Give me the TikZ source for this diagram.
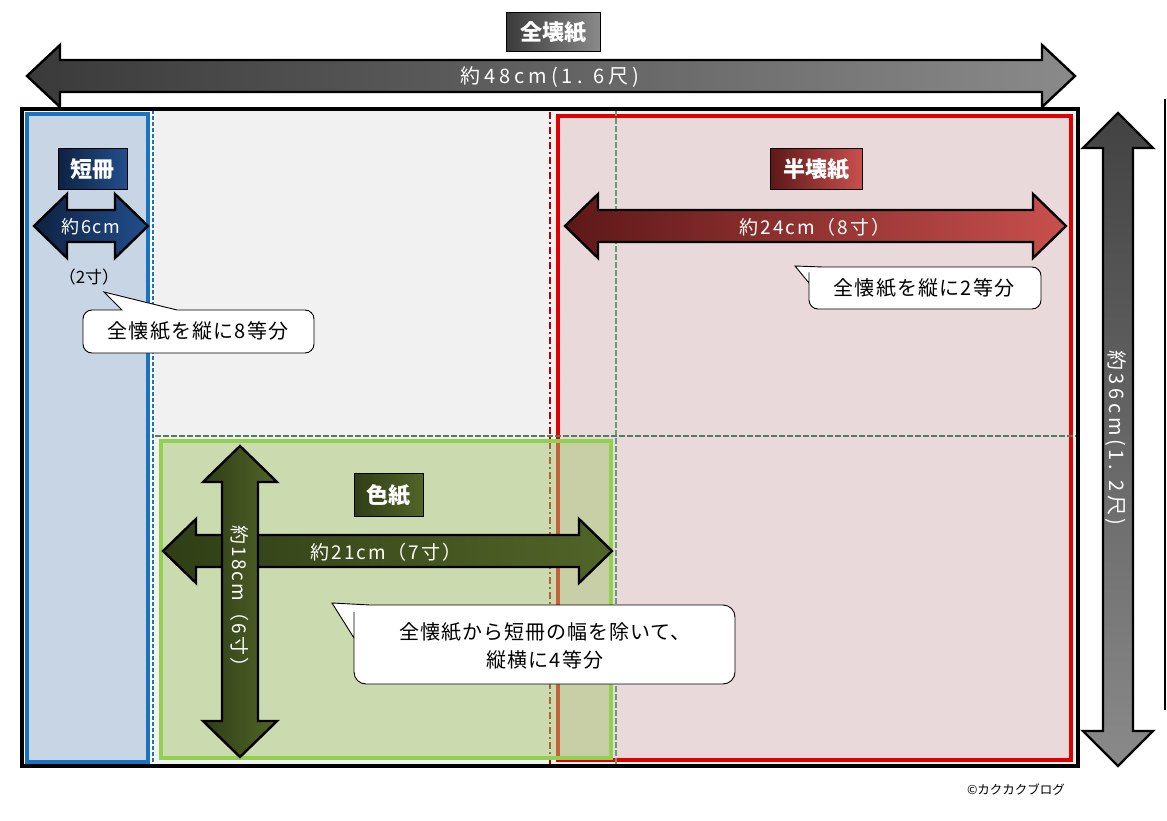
\documentclass[tikz,border=0pt]{standalone}
\usepackage{fontspec}
\setmainfont{Noto Sans CJK JP}
\definecolor{grayA}{RGB}{58,58,58}
\definecolor{grayB}{RGB}{138,138,138}
\definecolor{navyA}{RGB}{14,34,66}
\definecolor{navyB}{RGB}{34,78,140}
\definecolor{redA}{RGB}{94,24,24}
\definecolor{redB}{RGB}{200,80,77}
\definecolor{olvA}{RGB}{48,62,22}
\definecolor{olvB}{RGB}{82,100,40}
\definecolor{bluefill}{RGB}{200,213,229}
\definecolor{blueline}{RGB}{26,115,192}
\definecolor{pinkfill}{RGB}{234,217,219}
\definecolor{redline}{RGB}{224,0,0}
\definecolor{greenfill}{RGB}{168,196,112}
\definecolor{greenline}{RGB}{146,208,80}
\definecolor{gdash}{RGB}{100,158,118}
\definecolor{paper}{RGB}{241,241,241}
\newcommand{\harr}[7]{%
 \path[#7] (#1,#3) -- ({#1+#6},{#3-#5}) -- ({#1+#6},{#3-#4}) -- ({#2-#6},{#3-#4}) -- ({#2-#6},{#3-#5}) -- (#2,#3) -- ({#2-#6},{#3+#5}) -- ({#2-#6},{#3+#4}) -- ({#1+#6},{#3+#4}) -- ({#1+#6},{#3+#5}) -- cycle;}
\newcommand{\varr}[7]{%
 \path[#7] (#3,#1) -- ({#3-#5},{#1+#6}) -- ({#3-#4},{#1+#6}) -- ({#3-#4},{#2-#6}) -- ({#3-#5},{#2-#6}) -- (#3,#2) -- ({#3+#5},{#2-#6}) -- ({#3+#4},{#2-#6}) -- ({#3+#4},{#1+#6}) -- ({#3+#5},{#1+#6}) -- cycle;}
\newcommand{\arrfont}[2]{\fontsize{#1}{#1}\selectfont\addfontfeature{LetterSpace=#2}}
\tikzset{
 arrowline/.style={draw=black, line width=2.4pt, line join=miter},
 labelbox/.style={draw=black, line width=0.8pt, text=white, font=\fontsize{22}{26}\selectfont\bfseries, inner sep=0pt},
 arrowtext/.style={text=white, inner sep=0pt},
 callout/.style={draw=black, line width=0.9pt, fill=white},
 callouttext/.style={font=\arrfont{20}{6}, inner sep=0pt, align=center},
 framerect/.style={line width=3.2pt},
}
\begin{document}
\begin{tikzpicture}[x=1pt,y=-1pt]
\useasboundingbox (0,0) rectangle (1167,821);
\fill[white] (0,0) rectangle (1167,821);
% sheet
\fill[paper] (155,110) rectangle (1076,764);
\draw[framerect, fill=bluefill, draw=blueline] (27,114) rectangle (148,762);
\draw[white, line width=4pt] (153,110) -- (153,765);
\draw[blueline, line width=1.5pt, dash pattern=on 4pt off 2pt] (153,110) -- (153,765);
\draw[framerect, fill=pinkfill, draw=redline] (558,116) rectangle (1071,760);
\draw[red!70!black, line width=2.2pt, dash pattern=on 7pt off 3pt on 2pt off 3pt] (550,112) -- (550,765);
\draw[gdash, line width=1.5pt, dash pattern=on 6pt off 2pt] (616,110) -- (616,765);
\draw[gdash!80!black, line width=1.5pt, dash pattern=on 6pt off 2pt] (155,436) -- (1077,436);
\draw[framerect, fill=greenfill, fill opacity=0.5, draw=greenline] (161,441) rectangle (611,758);
\draw[black, line width=3.4pt] (22,109) rectangle (1078,766);
\draw[black, line width=1.5pt] (1165,99) -- (1165,710);
% top label and arrow
\node[labelbox, left color=grayA, right color=grayB, minimum width=94, minimum height=39] (zen) at (553,32) {全壊紙};
\harr{27}{1075}{76}{16}{31}{33}{arrowline, left color=grayA, right color=grayB}
\node[arrowtext, font=\arrfont{20}{20}] (w48) at (550,77) {約48cm(1. 6尺)};
% right arrow
\varr{113}{766}{1118}{15}{35}{35}{arrowline, top color=grayA!90!grayB, bottom color=grayB}
\node[arrowtext, rotate=-90, font=\arrfont{20}{18}] (h36) at (1116,438) {約36cm(1. 2尺)};
% tanzaku
\node[labelbox, left color=navyA, right color=navyB, minimum width=69, minimum height=41] (tan) at (92.5,169) {短冊};
\harr{34}{148}{226}{16}{32}{33}{arrowline, left color=navyA, right color=navyB}
\node[arrowtext, font=\arrfont{18}{8}] (w6) at (91,227) {約6cm};
\node[inner sep=0pt, font=\arrfont{17}{0}] (sun2) at (89,277) {（2寸）};
\draw[callout] (122,310) -- (104,292) -- (177,310) [rounded corners=9pt] -- (314,310) -- (314,353) -- (83,353) -- (83,310) [sharp corners] -- cycle;
\node[callouttext] (c8) at (198,331) {全懐紙を縦に8等分};
% hanshi
\node[labelbox, left color=redA, right color=redB, minimum width=92, minimum height=41] (han) at (816,169) {半壊紙};
\harr{565}{1066}{226}{16}{32}{33}{arrowline, left color=redA, right color=redB}
\node[arrowtext, font=\arrfont{19}{10}] (w24) at (815,227) {約24cm（8寸）};
\draw[callout] (809,283) -- (795,266) -- (823,267) [rounded corners=9pt] -- (1041,267) -- (1041,309) -- (809,309) -- (809,267) [sharp corners] -- cycle;
\node[callouttext] (c2) at (924,288) {全懐紙を縦に2等分};
% shikishi
\node[labelbox, left color=olvA, right color=olvB, minimum width=69, minimum height=43] (shi) at (388.5,495) {色紙};
\harr{163}{612}{551}{16}{32}{33}{arrowline, left color=olvA, right color=olvB}
\node[arrowtext, font=\arrfont{19}{10}] (w21) at (386,552) {約21cm（7寸）};
\varr{446}{757}{240}{18}{37}{36}{arrowline, left color=olvA, right color=olvB}
\node[arrowtext, rotate=-90, font=\arrfont{19}{10}] (h18) at (240,601) {約18cm（6寸）};
\draw[callout] (354,638) -- (332,603) -- (370,605) [rounded corners=12pt] -- (735,605) -- (735,684) -- (354,684) -- (354,605) [sharp corners] -- cycle;
\node[callouttext, font=\arrfont{20}{5}] (c4) at (545,646) {全懐紙から短冊の幅を除いて、\\[8pt]縦横に4等分};
% credit
\node[inner sep=0pt, font=\fontsize{12.5}{15}\selectfont] (copy) at (1016,790) {©カクカクブログ};
\end{tikzpicture}
\end{document}
